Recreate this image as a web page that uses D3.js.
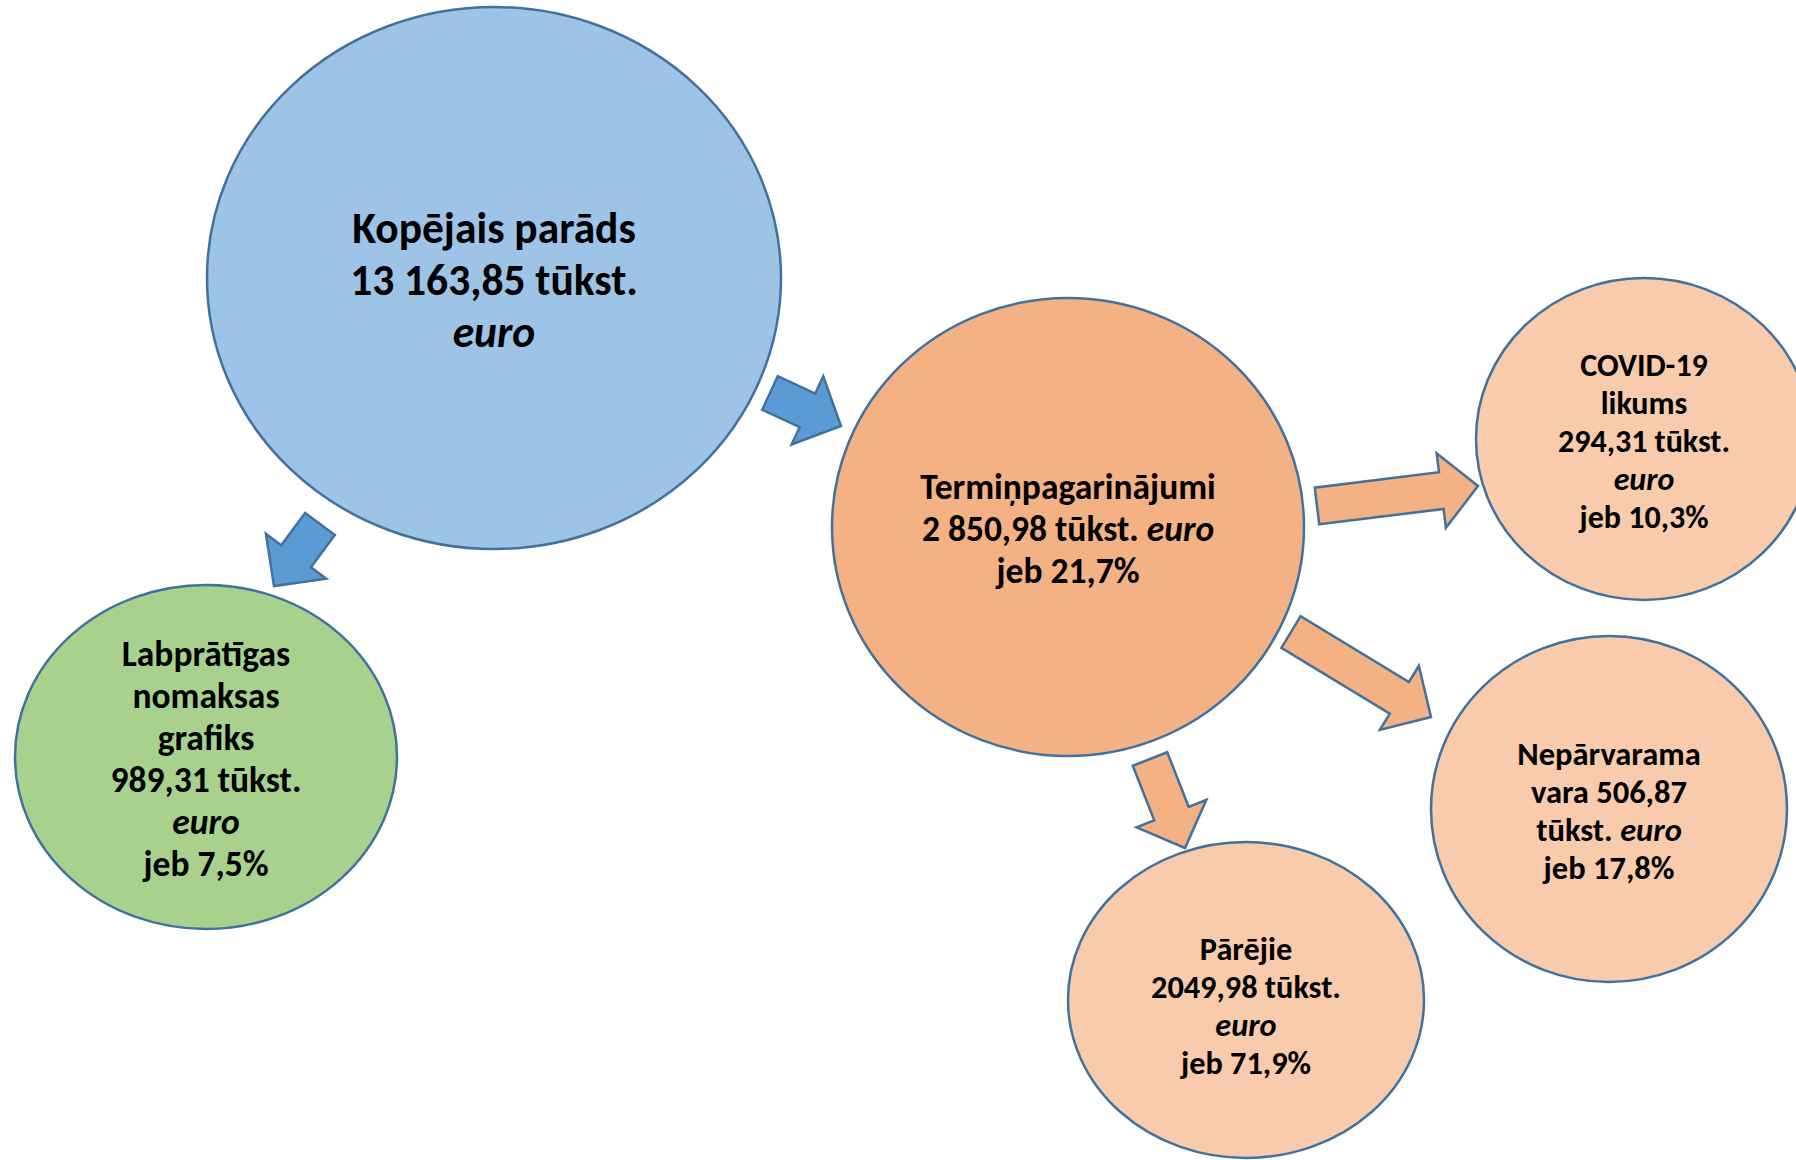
<!DOCTYPE html>
<html>
<head>
<meta charset="utf-8">
<script src="https://cdn.jsdelivr.net/npm/d3@7"></script>
<style>
  body { margin: 0; background: #fff; }
  svg { display: block; }
  text { font-family: Carlito, Calibri, Lato, sans-serif; font-weight: bold; fill: #000; }
</style>
</head>
<body>
<svg id="chart" width="1796" height="1160"></svg>
<script>
// node data (values in thousand euro, share in % of parent)
var nodeIds = ["total", "voluntary", "extensions", "covid", "force", "other"];
var nodeValues = [13163.85, 989.31, 2850.98, 294.31, 506.87, 2049.98];
var nodeShares = [null, 7.5, 21.7, 10.3, 17.8, 71.9];
var nodeLines = [
  ["Kopējais parāds", "{v} tūkst.", "*euro*"],
  ["Labprātīgas", "nomaksas", "grafiks", "{v} tūkst.", "*euro*", "jeb {p}%"],
  ["Termiņpagarinājumi", "{v} tūkst. *euro*", "jeb {p}%"],
  ["COVID-19", "likums", "{v} tūkst.", "*euro*", "jeb {p}%"],
  ["Nepārvarama", "vara {v}", "tūkst. *euro*", "jeb {p}%"],
  ["Pārējie", "{v} tūkst.", "*euro*", "jeb {p}%"]
];
var groupThousands = [true, true, true, true, true, false];
var links = [
  ["total", "extensions"],
  ["total", "voluntary"],
  ["extensions", "covid"],
  ["extensions", "force"],
  ["extensions", "other"]
];

// layout (pixel geometry and styles, kept apart from the data)
var layout = {
  total:      { cx: 494,  cy: 278, rx: 287, ry: 271, fill: "#9dc3e6", fs: 43.5, lh: 52, ty: 2 },
  voluntary:  { cx: 206,  cy: 757, rx: 191, ry: 172, fill: "#a9d18e", fs: 35.5, lh: 42, ty: 2 },
  extensions: { cx: 1068, cy: 527, rx: 236, ry: 229, fill: "#f4b183", fs: 35.5, lh: 42, ty: 2 },
  covid:      { cx: 1644, cy: 439, rx: 168, ry: 161, fill: "#f8cbad", fs: 32, lh: 38, ty: 2 },
  force:      { cx: 1609, cy: 809, rx: 178, ry: 173, fill: "#f8cbad", fs: 32.5, lh: 38, ty: 2 },
  other:      { cx: 1246, cy: 1000, rx: 178, ry: 158, fill: "#f8cbad", fs: 32.3, lh: 38, ty: 5.5 }
};
var arrowLayout = [
  { tail: [770, 393],  tip: [841, 426],  fill: "#5b9bd5" },
  { tail: [320, 524],  tip: [274, 586],  fill: "#5b9bd5" },
  { tail: [1317, 506], tip: [1478, 486], fill: "#f4b183" },
  { tail: [1291, 632], tip: [1431, 717], fill: "#f4b183" },
  { tail: [1150, 759], tip: [1185, 848], fill: "#f4b183" }
];
var shaftW = 37, headW = 75, headL = 37;
var strokeCol = "#41719c";

var lv = d3.formatLocale({ decimal: ",", thousands: " ", grouping: [3], currency: ["", " €"] });
var fmtGroup = lv.format(",.2f"), fmtPlain = lv.format(".2f"), fmtPct = lv.format(".1f");

var nodes = nodeIds.map(function (id, i) {
  return {
    id: id,
    value: nodeValues[i],
    share: nodeShares[i],
    lines: nodeLines[i].map(function (l) {
      return l.replace("{v}", (groupThousands[i] ? fmtGroup : fmtPlain)(nodeValues[i]))
              .replace("{p}", nodeShares[i] == null ? "" : fmtPct(nodeShares[i]));
    }),
    geo: layout[id]
  };
});

var svg = d3.select("#chart");

function arrowPath(a) {
  var dx = a.tip[0] - a.tail[0], dy = a.tip[1] - a.tail[1];
  var L = Math.sqrt(dx * dx + dy * dy);
  var ux = dx / L, uy = dy / L, nx = -uy, ny = ux;
  var bx = a.tail[0] + ux * (L - headL), by = a.tail[1] + uy * (L - headL);
  var pts = [
    [a.tail[0] + nx * shaftW / 2, a.tail[1] + ny * shaftW / 2],
    [bx + nx * shaftW / 2, by + ny * shaftW / 2],
    [bx + nx * headW / 2, by + ny * headW / 2],
    a.tip,
    [bx - nx * headW / 2, by - ny * headW / 2],
    [bx - nx * shaftW / 2, by - ny * shaftW / 2],
    [a.tail[0] - nx * shaftW / 2, a.tail[1] - ny * shaftW / 2]
  ];
  return d3.line()(pts) + "Z";
}

// ellipses
svg.selectAll(".node")
  .data(nodes)
  .join("ellipse")
  .attr("class", "node")
  .attr("cx", function (d) { return d.geo.cx; })
  .attr("cy", function (d) { return d.geo.cy; })
  .attr("rx", function (d) { return d.geo.rx; })
  .attr("ry", function (d) { return d.geo.ry; })
  .attr("fill", function (d) { return d.geo.fill; })
  .attr("stroke", strokeCol)
  .attr("stroke-width", 2.5);

// arrows
svg.selectAll(".link")
  .data(links.map(function (l, i) { return Object.assign({ source: l[0], target: l[1] }, arrowLayout[i]); }))
  .join("path")
  .attr("class", "link")
  .attr("d", arrowPath)
  .attr("fill", function (d) { return d.fill; })
  .attr("stroke", strokeCol)
  .attr("stroke-width", 2.5)
  .attr("stroke-linejoin", "miter");

// labels
var label = svg.selectAll(".label")
  .data(nodes)
  .join("text")
  .attr("class", "label")
  .attr("text-anchor", "middle")
  .attr("font-size", function (d) { return d.geo.fs; });

label.each(function (d) {
  var t = d3.select(this);
  var n = d.lines.length;
  d.lines.forEach(function (line, i) {
    var y = d.geo.cy + d.geo.ty + (i - (n - 1) / 2) * d.geo.lh;
    var row = t.append("tspan").attr("x", d.geo.cx).attr("y", y).attr("dominant-baseline", "central");
    line.split(/(\*[^*]+\*)/).filter(function (s) { return s.length; }).forEach(function (part) {
      var it = part.charAt(0) === "*";
      row.append("tspan")
        .attr("font-style", it ? "italic" : null)
        .text(it ? part.slice(1, -1) : part);
    });
  });
});
</script>
</body>
</html>
